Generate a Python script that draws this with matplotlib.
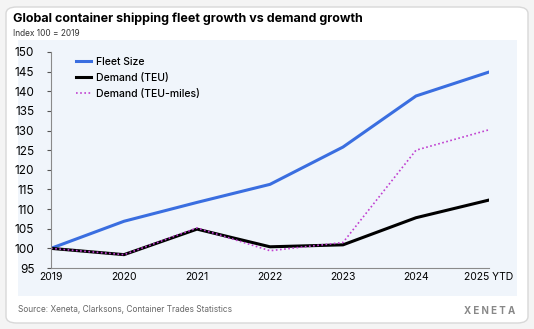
import matplotlib.pyplot as plt
from matplotlib.patches import FancyBboxPatch, Rectangle

years = ["2019", "2020", "2021", "2022", "2023", "2024", "2025 YTD"]
fleet = [100, 106.9, 111.7, 116.3, 125.8, 138.8, 144.9]
demand_teu = [100, 98.4, 104.9, 100.4, 100.9, 107.8, 112.3]
demand_teu_miles = [100, 98.4, 105.2, 99.4, 101.5, 125.0, 130.2]
yticks = list(range(95, 151, 5))

plt.rcParams['font.family'] = ['Inter', 'DejaVu Sans']

fig = plt.figure(figsize=(5.34, 3.29), dpi=100)
fig.patch.set_facecolor('#f4f4f4')

W, H = 534, 329
# card + light plot background, drawn under the chart
card = FancyBboxPatch((6 / W, 6 / H), 522 / W, 316 / H,
                      boxstyle="round,pad=0,rounding_size=0.02",
                      transform=fig.transFigure, facecolor='white',
                      edgecolor='#d8d8d8', linewidth=1, zorder=-2)
fig.patches.append(card)
bg = Rectangle((18 / W, 1 - 296 / H), 499 / W, 256 / H,
               transform=fig.transFigure, facecolor='#f0f5fb',
               edgecolor='none', zorder=-1)
fig.patches.append(bg)

ax = fig.add_axes([51 / W, 1 - 268 / H, 438 / W, 216 / H])
ax.set_facecolor('none')
x = range(len(years))
ax.plot(x, fleet, color='#3a6ee0', lw=2.2, label='Fleet Size')
ax.plot(x, demand_teu, color='black', lw=2.2, label='Demand (TEU)')
ax.plot(x, demand_teu_miles, color='#c03fd0', lw=1.2, ls=(0, (1, 1.5)),
        label='Demand (TEU-miles)')

ax.set_xlim(0, 6)
ax.set_ylim(95, 150)
ax.set_yticks(yticks)
ax.set_xticks(list(x))
ax.set_xticklabels(years)
ax.tick_params(axis='y', labelsize=8.5, length=3, color='#555555', pad=9)
ax.tick_params(axis='x', labelsize=7.5, length=0, pad=3)
for s in ['top', 'right']:
    ax.spines[s].set_visible(False)
for s in ['left', 'bottom']:
    ax.spines[s].set_color('#8a8a8a')
    ax.spines[s].set_linewidth(0.8)

leg = ax.legend(loc='upper left', bbox_to_anchor=(0.035, 1.02), frameon=False,
                fontsize=7.5, handlelength=1.5, handletextpad=0.45,
                labelspacing=0.55)
for t in leg.get_texts():
    t.set_fontweight('medium')

fig.text(13 / W, 1 - 19 / H, "Global container shipping fleet growth vs demand growth",
         fontsize=9, fontweight='bold', va='center', ha='left')
fig.text(13 / W, 1 - 33 / H, "Index 100 = 2019", fontsize=6, va='center', ha='left',
         color='#333333')
fig.text(18 / W, 1 - 309 / H, "Source: Xeneta, Clarksons, Container Trades Statistics",
         fontsize=6, va='center', ha='left', color='#666666')
fig.text(515 / W, 1 - 311 / H, "X E N E T A", fontsize=7, va='center', ha='right',
         color='#888888', fontweight='bold')

fig.savefig('out.png', dpi=100)
